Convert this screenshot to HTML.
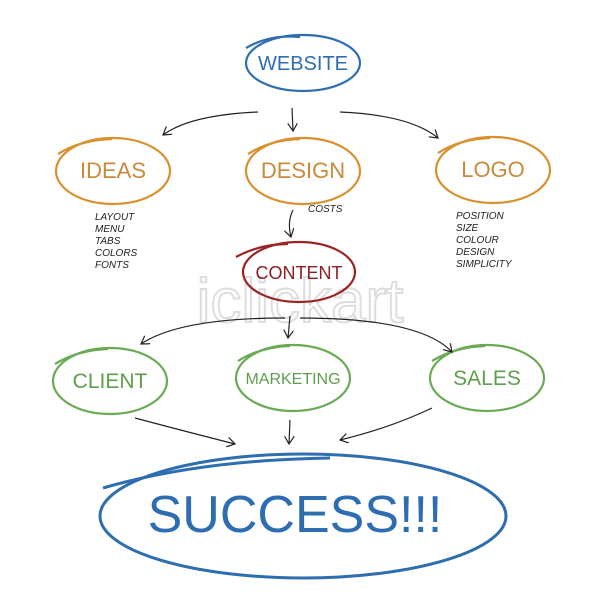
<!DOCTYPE html>
<html><head><style>
html,body{margin:0;padding:0;background:#fff;width:600px;height:600px;overflow:hidden}
svg text{font-family:"Liberation Sans",sans-serif}
</style></head><body>
<svg width="600" height="600" viewBox="0 0 600 600" xmlns="http://www.w3.org/2000/svg">
<defs><marker id="a" markerWidth="10" markerHeight="10" refX="8" refY="5" orient="auto" markerUnits="userSpaceOnUse"><path d="M0,0 L8,5 L0,10" fill="none" stroke="#222" stroke-width="1.2"/></marker></defs>
<text x="300" y="322" text-anchor="middle" font-size="62" fill="none" stroke="#ddd" stroke-width="2">iclickart</text>
<g fill="none" stroke-width="2.2">
<ellipse cx="303" cy="63" rx="57" ry="28" stroke="#2d6db0"/>
<path d="M246,48 Q270,34 300,37" stroke="#2d6db0"/>
<g stroke="#d9902f">
<ellipse cx="113" cy="171" rx="57" ry="33"/><path d="M58,154 Q80,140 112,139"/>
<ellipse cx="303" cy="171" rx="57" ry="33"/><path d="M248,154 Q270,140 300,139"/>
<ellipse cx="493" cy="170" rx="57" ry="33"/><path d="M438,153 Q460,139 490,138"/>
</g>
<ellipse cx="299" cy="272" rx="56" ry="30" stroke="#9a2424"/><path d="M236,257 Q260,244 288,244" stroke="#9a2424"/>
<g stroke="#6aaa55">
<ellipse cx="110" cy="381" rx="57" ry="33"/><path d="M55,364 Q78,350 108,349"/>
<ellipse cx="293" cy="378" rx="57" ry="33"/><path d="M238,361 Q260,347 290,346"/>
<ellipse cx="487" cy="378" rx="57" ry="33"/><path d="M432,361 Q455,347 485,346"/>
</g>
<ellipse cx="303" cy="516" rx="203" ry="62" stroke="#2d6db0" stroke-width="3"/>
<path d="M103,488 Q200,460 330,458" stroke="#2d6db0" stroke-width="3"/>
</g>
<g fill="none" stroke="#222" stroke-width="1.2" marker-end="url(#a)">
<path d="M258,112 Q190,115 163,135"/>
<path d="M292,108 L293,131"/>
<path d="M340,112 Q410,115 438,138"/>
<path d="M293,210 Q287,222 291,237"/>
<path d="M290,316 L288,338"/>
<path d="M285,318 Q180,318 141,344"/>
<path d="M300,318 Q420,318 452,352"/>
<path d="M135,418 Q180,430 235,444"/>
<path d="M290,420 L289,444"/>
<path d="M432,408 Q390,428 340,440"/>
</g>
<g font-size="20" text-anchor="middle">
<text x="303" y="70" fill="#2d6db0">WEBSITE</text>
<text x="113" y="178" fill="#c98a3a" font-size="22">IDEAS</text>
<text x="303" y="178" fill="#c98a3a" font-size="22">DESIGN</text>
<text x="493" y="177" fill="#c98a3a" font-size="22">LOGO</text>
<text x="299" y="279" fill="#8a2020" font-size="18">CONTENT</text>
<text x="110" y="388" fill="#5e9e4c" font-size="21">CLIENT</text>
<text x="293" y="384" fill="#5e9e4c" font-size="16">MARKETING</text>
<text x="487" y="385" fill="#5e9e4c" font-size="21">SALES</text>
<text x="295" y="532" fill="#2d6db0" font-size="52">SUCCESS!!!</text>
</g>
<g font-size="10" fill="#222" font-style="italic">
<text x="308" y="212">COSTS</text>
<text x="95" y="220">LAYOUT</text><text x="95" y="232">MENU</text><text x="95" y="244">TABS</text><text x="95" y="256">COLORS</text><text x="95" y="268">FONTS</text>
<text x="456" y="219">POSITION</text><text x="456" y="231">SIZE</text><text x="456" y="243">COLOUR</text><text x="456" y="255">DESIGN</text><text x="456" y="267">SIMPLICITY</text>
</g>
</svg>
</body></html>
